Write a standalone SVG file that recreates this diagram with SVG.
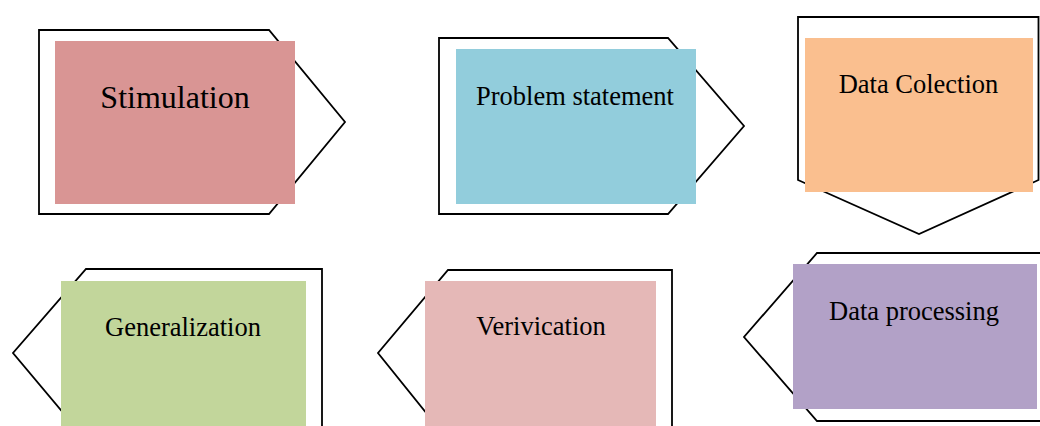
<svg xmlns="http://www.w3.org/2000/svg" width="1040" height="426" viewBox="0 0 1040 426">
<style>
.outline{fill:#fff;stroke:#000;stroke-width:1.8;stroke-linejoin:miter}
.lbl{font-family:"Liberation Serif","Times New Roman",serif;font-size:26.5px;fill:#000;text-anchor:middle}
</style>
<rect width="1040" height="426" fill="#fff"/>
<g id="connectors"></g>
<g id="node-stimulation">
<polygon class="outline" points="39,30 269,30 345,122 269,214 39,214"/>
<rect x="55" y="41" width="240" height="163" fill="#D99594"/>
<text class="lbl" x="175" y="108" style="font-size:32px">Stimulation</text>
</g>
<g id="node-problem">
<polygon class="outline" points="439,38 668,38 744,126 668,214 439,214"/>
<rect x="456" y="49" width="240" height="155" fill="#92CDDC"/>
<text class="lbl" x="575" y="105">Problem statement</text>
</g>
<g id="node-collection">
<polygon class="outline" points="798,17 1038.5,17 1038.5,180 919,234 798,180"/>
<rect x="805" y="38" width="228" height="154" fill="#FABF8F"/>
<text class="lbl" x="918.5" y="93">Data Colection</text>
</g>
<g id="node-processing">
<polygon class="outline" points="817,253 1046,253 1046,421 817,421 744,337"/>
<rect x="793" y="264" width="244" height="145" fill="#B2A1C7"/>
<text class="lbl" x="914" y="320">Data processing</text>
</g>
<g id="node-verivication">
<polygon class="outline" points="448,270 672,270 672,440 448,440 378,353"/>
<rect x="425" y="281" width="231" height="150" fill="#E5B8B7"/>
<text class="lbl" x="541" y="335">Verivication</text>
</g>
<g id="node-generalization">
<polygon class="outline" points="86,269 322,269 322,440 86,440 13,353"/>
<rect x="61" y="281" width="245" height="150" fill="#C2D69B"/>
<text class="lbl" x="183" y="336">Generalization</text>
</g>
</svg>
